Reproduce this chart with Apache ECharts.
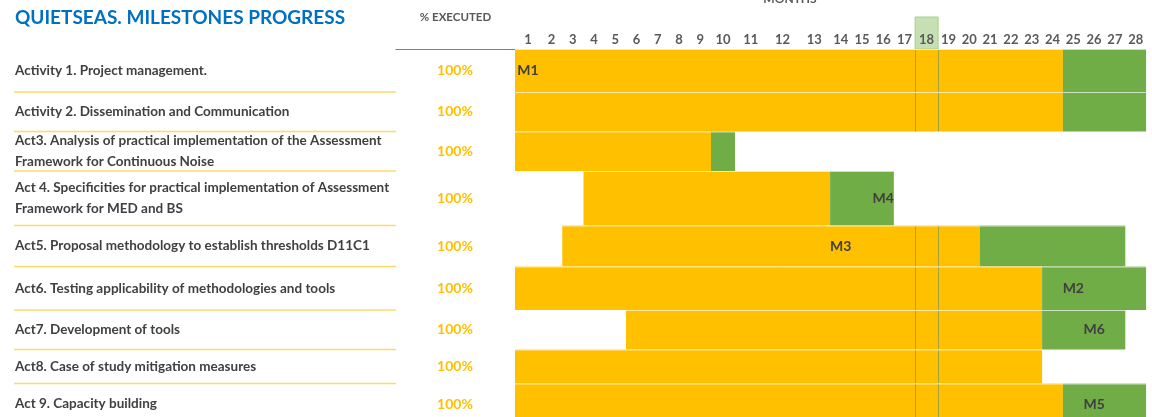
<!DOCTYPE html>
<html>
<head>
<meta charset="utf-8">
<script src="https://cdn.jsdelivr.net/npm/echarts@6/dist/echarts.min.js"></script>
<style>
  html, body { margin: 0; padding: 0; background: #fff; }
  #chart { width: 1152px; height: 417px; }
</style>
</head>
<body>
<div id="chart"></div>
<script>
// --- data ---
const activities = [
  "Activity 1. Project management.",
  "Activity 2. Dissemination and Communication",
  "Act3. Analysis of practical implementation of the Assessment Framework for Continuous Noise",
  "Act 4. Specificities for practical implementation of Assessment Framework for MED and BS",
  "Act5. Proposal methodology to establish thresholds D11C1",
  "Act6. Testing applicability of methodologies and tools",
  "Act7. Development of tools",
  "Act8. Case of study mitigation measures",
  "Act 9. Capacity building"
];
const executed = [100, 100, 100, 100, 100, 100, 100, 100, 100];
const startMonth = [1, 1, 1, 4, 3, 1, 6, 1, 1];
const plannedEnd = [24, 24, 9, 13, 20, 23, 23, 23, 24];   // yellow
const extendedEnd = [28, 28, 10, 16, 27, 28, 27, null, 28]; // green
const milestoneLabel = ["M1", null, null, "M4", "M3", "M2", "M6", null, "M5"];
const milestoneMonth = [1, null, null, 16, 14, 25, 26, null, 26];
const months = [1, 2, 3, 4, 5, 6, 7, 8, 9, 10, 11, 12, 13, 14, 15, 16, 17, 18, 19, 20, 21, 22, 23, 24, 25, 26, 27, 28];
const currentMonth = 18;

// --- layout (spreadsheet column widths / row heights) ---
const monthWidths = [26, 21.25, 21.25, 21.25, 21.25, 21.25, 21.25, 21.25, 21.25, 24,
  31.7, 31.7, 31.7, 21.25, 21.25, 21.25, 21.25, 23,
  20.8, 20.8, 20.8, 20.8, 20.8, 20.8, 20.8, 20.8, 20.8, 20.8];
const rowHeights = [43, 39.5, 39.5, 54.5, 41, 43.5, 39.5, 34, 41];

const YELLOW = "#FFC000";
const GREEN = "#70AD47";
const FONT = "Lato";
const TOP = 49;

function monthEdge(m) { // left edge of month m
  let s = 0;
  for (let k = 0; k < m - 1; k++) s += monthWidths[k];
  return s;
}
function rowEdge(r) { // top edge of row r
  let s = 0;
  for (let k = 0; k < r; k++) s += rowHeights[k];
  return s;
}
const totalX = monthEdge(months.length + 1);
const totalY = rowEdge(rowHeights.length);
const monthCenters = months.map(m => monthEdge(m) + monthWidths[m - 1] / 2);
const rowCenters = activities.map((_, i) => rowEdge(i) + rowHeights[i] / 2);

function rowOf(v) {
  let best = 0;
  rowCenters.forEach((c, i) => { if (Math.abs(c - v) < Math.abs(rowCenters[best] - v)) best = i; });
  return best;
}

// segments: [from, to, row, kind]
const segments = [];
activities.forEach((_, i) => {
  segments.push([startMonth[i], plannedEnd[i], i, 0]);
  if (extendedEnd[i]) segments.push([plannedEnd[i] + 1, extendedEnd[i], i, 1]);
});
const milestones = [];
milestoneLabel.forEach((l, i) => { if (l) milestones.push([milestoneMonth[i], i, l]); });

const chart = echarts.init(document.getElementById("chart"));

const option = {
  animation: false,
  title: [
    {
      text: "QUIETSEAS. MILESTONES PROGRESS",
      left: 15, top: 8, padding: 0,
      textStyle: { color: "#0070C0", fontSize: 19, fontWeight: "bold", fontFamily: FONT }
    },
    {
      text: "MONTHS",
      left: 790, top: -7, padding: 0, textAlign: "center",
      textStyle: { color: "#595959", fontSize: 12, fontWeight: "bold", fontFamily: FONT }
    }
  ],
  grid: [
    { left: 515, top: TOP, width: totalX, height: totalY, outerBoundsMode: "none" },
    { left: 396, top: TOP, width: 119, height: totalY, outerBoundsMode: "none" },
    { left: 14, top: TOP, width: 382, height: totalY, outerBoundsMode: "none" }
  ],
  xAxis: [
    {
      gridIndex: 0, type: "value", min: 0, max: totalX, position: "top", z: 5,
      axisLine: { show: false }, axisTick: { show: false }, splitLine: { show: false },
      axisLabel: {
        customValues: monthCenters, margin: 3,
        formatter: v => String(months[monthCenters.findIndex(c => Math.abs(c - v) < 0.01)]),
        color: "#595959", fontSize: 13, fontWeight: "bold", fontFamily: FONT
      }
    },
    {
      gridIndex: 1, type: "value", min: 0, max: 1, position: "top",
      axisLine: { show: true, lineStyle: { color: "#7F7F7F", width: 1 } },
      axisTick: { show: false }, axisLabel: { show: false }, splitLine: { show: false },
      name: "% EXECUTED", nameLocation: "middle", nameGap: 26,
      nameTextStyle: { color: "#595959", fontSize: 11.5, fontWeight: "bold", fontFamily: FONT }
    },
    { gridIndex: 2, type: "value", min: 0, max: 1, show: false }
  ],
  yAxis: [
    {
      gridIndex: 0, type: "value", min: 0, max: totalY, inverse: true,
      axisLine: { show: false }, axisTick: { show: false }, splitLine: { show: false },
      axisLabel: { show: false }
    },
    {
      gridIndex: 1, type: "value", min: 0, max: totalY, inverse: true, position: "right",
      axisLine: { show: false }, axisTick: { show: false }, splitLine: { show: false },
      axisLabel: {
        customValues: rowCenters, inside: true, margin: 60, align: "center",
        formatter: v => executed[rowOf(v)] + "%",
        color: YELLOW, fontSize: 14, fontWeight: "bold", fontFamily: FONT
      }
    },
    {
      gridIndex: 2, type: "value", min: 0, max: totalY, inverse: true, position: "left",
      axisLine: { show: false }, axisTick: { show: false }, splitLine: { show: false },
      axisLabel: {
        customValues: rowCenters, inside: true, margin: 1, align: "left",
        formatter: v => activities[rowOf(v)],
        width: 392, overflow: "break", lineHeight: 21,
        color: "#404040", fontSize: 13.5, fontWeight: "bold", fontFamily: FONT
      }
    }
  ],
  series: [
    {
      // highlighted current month in the header
      type: "custom", xAxisIndex: 0, yAxisIndex: 0, clip: false, z: 1,
      data: [[currentMonth]],
      renderItem: (params, api) => {
        const m = api.value(0);
        const a = api.coord([monthEdge(m), -32]);
        const b = api.coord([monthEdge(m + 1), 0]);
        return {
          type: "rect",
          shape: { x: a[0], y: a[1], width: b[0] - a[0], height: b[1] - a[1] },
          style: { fill: "#C6E0B4", stroke: "#A9D08E", lineWidth: 1 }
        };
      }
    },
    {
      type: "custom", xAxisIndex: 0, yAxisIndex: 0, clip: false,
      encode: { x: [0, 1], y: 2 },
      data: segments,
      renderItem: (params, api) => {
        const from = api.value(0), to = api.value(1), r = api.value(2), kind = api.value(3);
        const a = api.coord([monthEdge(from), rowEdge(r)]);
        const b = api.coord([monthEdge(to + 1), rowEdge(r + 1)]);
        const children = [
          {
            type: "rect",
            shape: { x: a[0], y: a[1], width: b[0] - a[0], height: b[1] - a[1] },
            style: { fill: kind ? GREEN : YELLOW }
          },
          {
            type: "line",
            shape: { x1: a[0], y1: a[1] + 0.5, x2: b[0], y2: a[1] + 0.5 },
            style: { stroke: "rgba(255,255,255,0.65)", lineWidth: 1 }
          }
        ];
        if (from <= currentMonth && to >= currentMonth) {
          [currentMonth, currentMonth + 1].forEach(m => {
            const x = Math.round(api.coord([monthEdge(m), 0])[0]) + 0.5;
            children.push({
              type: "line",
              shape: { x1: x, y1: a[1] + 1, x2: x, y2: b[1] },
              style: { stroke: "#A5A040", lineWidth: 1 }
            });
          });
        }
        return { type: "group", children };
      }
    },
    {
      type: "custom", xAxisIndex: 0, yAxisIndex: 0, clip: false, z: 3,
      encode: { x: 0, y: 1 },
      data: milestones,
      renderItem: (params, api) => {
        const m = api.value(0), r = api.value(1);
        const p = api.coord([monthEdge(m) + monthWidths[m - 1] / 2, rowEdge(r) + rowHeights[r] / 2]);
        return {
          type: "text",
          x: p[0], y: p[1],
          style: {
            text: milestones[params.dataIndex][2],
            fill: "#404040",
            font: "bold 14px " + FONT,
            align: "center", verticalAlign: "middle",
            textAlign: "center", textVerticalAlign: "middle"
          }
        };
      }
    },
    {
      // row separators of the activity table
      type: "custom", xAxisIndex: 2, yAxisIndex: 2, clip: false,
      data: rowHeights.slice(0, -1).map((_, i) => [i]),
      renderItem: (params, api) => {
        const r = api.value(0);
        const a = api.coord([0, rowEdge(r + 1)]);
        const b = api.coord([1, rowEdge(r + 1)]);
        return {
          type: "line",
          shape: { x1: a[0], y1: a[1], x2: b[0], y2: b[1] },
          style: { stroke: "#FFD966", lineWidth: 1.5 }
        };
      }
    }
  ]
};

chart.setOption(option);
window.addEventListener("resize", () => chart.resize());
</script>
</body>
</html>
